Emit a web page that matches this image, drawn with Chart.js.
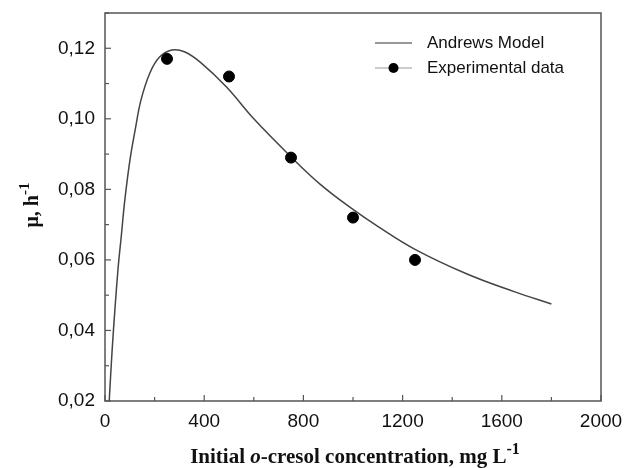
<!DOCTYPE html>
<html>
<head>
<meta charset="utf-8">
<script src="https://cdn.jsdelivr.net/npm/chart.js@4"></script>
<style>
  body { margin: 0; background: #fff; }
  #wrap { width: 631px; height: 468px; }
</style>
</head>
<body>
<div id="wrap"><canvas id="myChart"></canvas></div>
<script>
// Andrews model curve
const modelX = [17, 25, 34, 52, 66, 80, 101, 122, 145, 181, 220, 270, 320, 385, 490, 600, 746, 867, 1000, 1100, 1250, 1460, 1650, 1800];
const modelY = [0.020, 0.030, 0.040, 0.057, 0.067, 0.077, 0.0885, 0.097, 0.1053, 0.113, 0.1175, 0.1195, 0.1190, 0.1160, 0.109, 0.100, 0.0895, 0.0815, 0.0743, 0.0695, 0.063, 0.056, 0.051, 0.0475];

// experimental points
const expX = [250, 500, 750, 1000, 1250];
const expY = [0.117, 0.112, 0.089, 0.072, 0.060];

const xTicks = [0, 400, 800, 1200, 1600, 2000];
const yTicks = [0.02, 0.04, 0.06, 0.08, 0.10, 0.12];

const labels = ['Andrews Model', 'Experimental data'];

const axisColor = '#555';
const serif = '"Liberation Serif", "Times New Roman", serif';

// ticks pointing inward, axes box, titles and legend
const decor = {
  id: 'decor',
  afterDraw(chart) {
    const ctx = chart.ctx;
    const a = chart.chartArea;
    const xs = chart.scales.x, ys = chart.scales.y;
    ctx.save();
    ctx.strokeStyle = axisColor;
    ctx.lineWidth = 1.5;
    ctx.strokeRect(a.left, a.top, a.right - a.left, a.bottom - a.top);

    ctx.lineWidth = 1.2;
    xs.ticks.forEach(t => {
      const px = xs.getPixelForValue(t.value);
      const len = xTicks.includes(t.value) ? 6 : 4;
      ctx.beginPath();
      ctx.moveTo(px, a.bottom);
      ctx.lineTo(px, a.bottom - len);
      ctx.stroke();
    });
    ys.ticks.forEach(t => {
      const py = ys.getPixelForValue(t.value);
      const major = yTicks.some(v => Math.abs(v - t.value) < 1e-6);
      const len = major ? 6 : 4;
      ctx.beginPath();
      ctx.moveTo(a.left, py);
      ctx.lineTo(a.left + len, py);
      ctx.stroke();
    });

    // x title with italic o and superscript
    ctx.fillStyle = '#111';
    ctx.textBaseline = 'alphabetic';
    const parts = [
      ['bold 21px ' + serif, 'Initial ', 0],
      ['italic bold 21px ' + serif, 'o', 0],
      ['bold 21px ' + serif, '-cresol concentration, mg L', 0],
      ['bold 16px ' + serif, '-1', -9]
    ];
    let w = 0;
    parts.forEach(p => { ctx.font = p[0]; w += ctx.measureText(p[1]).width; });
    let x = (a.left + a.right) / 2 - w / 2 + 2;
    parts.forEach(p => {
      ctx.font = p[0];
      ctx.fillText(p[1], x, 463 + p[2]);
      x += ctx.measureText(p[1]).width;
    });

    // y title, rotated
    ctx.save();
    ctx.translate(38, 205);
    ctx.rotate(-Math.PI / 2);
    const yparts = [
      ['bold 20px ' + serif, 'μ, h', 0],
      ['bold 15px ' + serif, '-1', -9]
    ];
    w = 0;
    yparts.forEach(p => { ctx.font = p[0]; w += ctx.measureText(p[1]).width; });
    x = -w / 2;
    yparts.forEach(p => {
      ctx.font = p[0];
      ctx.fillText(p[1], x, p[2]);
      x += ctx.measureText(p[1]).width;
    });
    ctx.restore();

    // legend
    ctx.font = '17px "Liberation Sans", Arial, sans-serif';
    ctx.textBaseline = 'middle';
    ctx.fillStyle = '#111';
    ctx.strokeStyle = '#333';
    ctx.lineWidth = 1.2;
    ctx.beginPath();
    ctx.moveTo(375, 43);
    ctx.lineTo(412, 43);
    ctx.stroke();
    ctx.fillText(labels[0], 427, 43);

    ctx.strokeStyle = '#999';
    ctx.beginPath();
    ctx.moveTo(375, 68);
    ctx.lineTo(412, 68);
    ctx.stroke();
    ctx.fillStyle = '#000';
    ctx.beginPath();
    ctx.arc(393.5, 68, 5, 0, Math.PI * 2);
    ctx.fill();
    ctx.fillStyle = '#111';
    ctx.fillText(labels[1], 427, 68);
    ctx.restore();
  }
};

new Chart('myChart', {
  type: 'scatter',
  data: {
    datasets: [{
      label: labels[0],
      data: modelX.map((v, i) => ({x: v, y: modelY[i]})),
      showLine: true,
      borderColor: '#444',
      borderWidth: 1.5,
      pointRadius: 0,
      tension: 0.4,
      order: 2
    }, {
      label: labels[1],
      data: expX.map((v, i) => ({x: v, y: expY[i]})),
      showLine: false,
      pointRadius: 5.5,
      pointBackgroundColor: '#000',
      pointBorderColor: '#000',
      order: 1
    }]
  },
  options: {
    responsive: true,
    maintainAspectRatio: false,
    animation: false,
    layout: {padding: {left: 0, top: 13, right: 30, bottom: 0}},
    plugins: {
      legend: {display: false},
      tooltip: {enabled: false}
    },
    scales: {
      x: {
        type: 'linear',
        min: 0, max: 2000,
        border: {display: false},
        grid: {display: false, drawTicks: false},
        afterFit: s => { s.height = 67; s.paddingLeft = 0; s.paddingRight = 0; },
        ticks: {
          stepSize: 200,
          autoSkip: false,
          maxRotation: 0,
          padding: 9,
          color: '#111',
          font: {family: '"Liberation Sans", Arial, sans-serif', size: 19},
          callback: v => xTicks.includes(v) ? String(v) : ''
        }
      },
      y: {
        type: 'linear',
        min: 0.02, max: 0.13,
        border: {display: false},
        grid: {display: false, drawTicks: false},
        afterFit: s => { s.width = 105; s.paddingTop = 0; s.paddingBottom = 0; },
        ticks: {
          stepSize: 0.01,
          autoSkip: false,
          padding: 10,
          color: '#111',
          font: {family: '"Liberation Sans", Arial, sans-serif', size: 19},
          callback: v => yTicks.some(t => Math.abs(t - v) < 1e-6) ? v.toFixed(2).replace('.', ',') : ''
        }
      }
    }
  },
  plugins: [decor]
});
</script>
</body>
</html>
